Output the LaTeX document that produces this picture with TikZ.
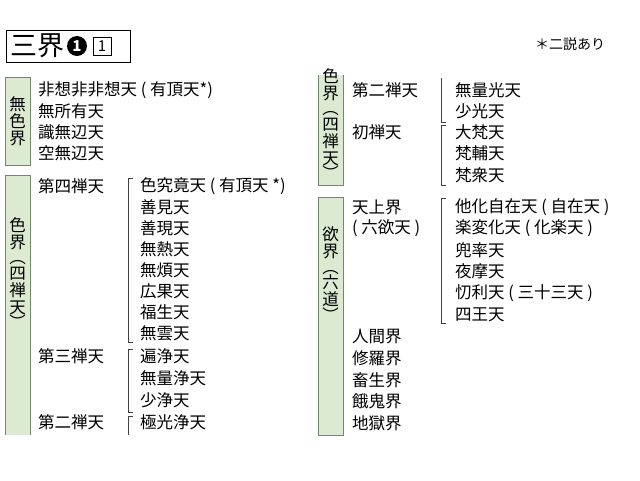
\documentclass[tikz,border=0pt]{standalone}
\usepackage{fontspec}
\setmainfont{Noto Sans CJK JP}
\usetikzlibrary{positioning}
\definecolor{boxgreen}{HTML}{DCEAD2}
\definecolor{boxline}{HTML}{6F8A68}
\newcommand{\vp}[1]{\\[-1.5pt]#1\\[-1.5pt]}
\tikzset{
    item/.style={anchor=west, inner sep=0pt, font=\fontsize{16.5}{18}\selectfont},
    side/.style={align=center, inner sep=0pt, font=\fontsize{16.5}{17}\selectfont},
    brk/.style={draw=black!75, line width=0.6pt},
    zone/.style={fill=boxgreen, draw=boxline, line width=0.8pt}
}

\begin{document}
\begin{tikzpicture}[x=1pt, y=-1pt]
    \useasboundingbox (0,0) rectangle (640,480);
    % Title
    \draw[line width=0.8pt] (6,30) rectangle (130,62);
    \node[item, font=\fontsize{27}{27}\selectfont](title) at (10,46) {三界};
    \node[circle, fill=black, inner sep=0pt, minimum size=20pt, text=white,
          font=\bfseries\fontsize{15}{15}\selectfont](one) at (77,46) {1};
    \node[draw, line width=0.6pt, minimum size=18pt, inner sep=0pt,
          font=\fontsize{15}{15}\selectfont](box1) at (102,46) {1};
    \node[item, font=\fontsize{14}{14}\selectfont](note) at (535,44) {＊二説あり};
    % Zone boxes
    \fill[boxgreen] (5,175) rectangle (30,435);
    \draw[boxline, line width=0.8pt] (5,435) -- (5,175) -- (30,175) -- (30,435);
    \draw[zone] (5,77) rectangle (30,165);
    \fill[boxgreen] (318,75) rectangle (343,185);
    \draw[boxline, line width=0.8pt] (318,75) -- (318,185) -- (343,185) -- (343,75);
    \draw[zone] (318,197) rectangle (343,435);
    \node[side](mushiki) at (17.5,121) {無\\色\\界};
    \node[side](shiki) at (17.5,281) {色\\界\vp{︵}四\\禅\\天\vp{︶}};
    \node[side](shiki2) at (330.5,132) {色\\界\vp{︵}四\\禅\\天\vp{︶}};
    \node[side](yoku) at (330.5,282) {欲\\界\vp{︵}六\\道\vp{︶}};
    % Left column
    \node[item](a1) at (38,90)  {非想非非想天 ( 有頂天*)};
    \node[item](a2) at (38,111) {無所有天};
    \node[item](a3) at (38,132) {識無辺天};
    \node[item](a4) at (38,153) {空無辺天};
    \node[item](d4) at (38,186) {第四禅天};
    \node[item](d3) at (38,356) {第三禅天};
    \node[item](d2) at (38,422) {第二禅天};
    \node[item](b1) at (140,186) {色究竟天 ( 有頂天 *)};
    \node[item](b2) at (140,207) {善見天};
    \node[item](b3) at (140,228) {善現天};
    \node[item](b4) at (140,249) {無熱天};
    \node[item](b5) at (140,270) {無煩天};
    \node[item](b6) at (140,291) {広果天};
    \node[item](b7) at (140,312) {福生天};
    \node[item](b8) at (140,333) {無雲天};
    \node[item](c1) at (140,356) {遍浄天};
    \node[item](c2) at (140,378) {無量浄天};
    \node[item](c3) at (140,400) {少浄天};
    \node[item](e1) at (140,422) {極光浄天};
    \draw[brk] (133,178) -- (128,178) -- (128,342) -- (133,342);
    \draw[brk] (133,349) -- (128,349) -- (128,412) -- (133,412);
    \draw[brk] (133,416) -- (128,416) -- (128,435);
    % Right column
    \node[item](r1) at (352,90)  {第二禅天};
    \node[item](r2) at (352,132) {初禅天};
    \node[item](s1) at (455,90)  {無量光天};
    \node[item](s2) at (455,111) {少光天};
    \node[item](s3) at (455,132) {大梵天};
    \node[item](s4) at (455,153) {梵輔天};
    \node[item](s5) at (455,175) {梵衆天};
    \draw[brk] (441,78) -- (441,122) -- (446,122);
    \draw[brk] (446,125) -- (441,125) -- (441,185) -- (446,185);
    \node[item](t1) at (352,207) {天上界};
    \node[item](t2) at (352,228) {( 六欲天 )};
    \node[item](u1) at (455,207) {他化自在天 ( 自在天 )};
    \node[item](u2) at (455,228) {楽変化天 ( 化楽天 )};
    \node[item](u3) at (455,250) {兜率天};
    \node[item](u4) at (455,271) {夜摩天};
    \node[item](u5) at (455,293) {忉利天 ( 三十三天 )};
    \node[item](u6) at (455,315) {四王天};
    \draw[brk] (446,198) -- (441,198) -- (441,323) -- (446,323);
    \node[item](v1) at (352,337) {人間界};
    \node[item](v2) at (352,358) {修羅界};
    \node[item](v3) at (352,380) {畜生界};
    \node[item](v4) at (352,401) {餓鬼界};
    \node[item](v5) at (352,423) {地獄界};
\end{tikzpicture}
\end{document}
